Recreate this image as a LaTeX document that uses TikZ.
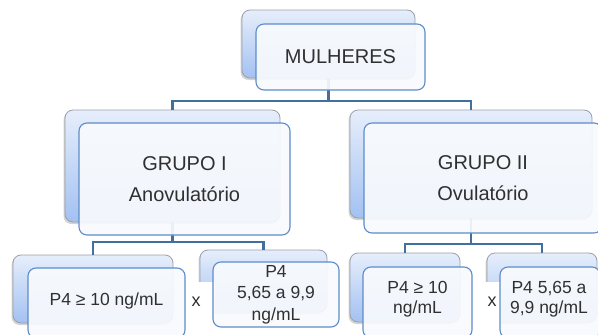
\documentclass[tikz,border=0pt]{standalone}
\usepackage{fontspec}
\setmainfont{Liberation Sans}
\usetikzlibrary{shadows,calc}
\definecolor{conn}{HTML}{41709F}
\definecolor{backtop}{HTML}{E6EEFB}
\definecolor{backbot}{HTML}{A3C1F2}
\definecolor{backline}{HTML}{9A9FA8}
\definecolor{frontline}{HTML}{5E8CC8}
\definecolor{frontfill}{HTML}{F8FAFD}
\definecolor{txt}{HTML}{303030}
\tikzset{
  backbox/.style={draw=backline, line width=0.8pt, rounded corners=8pt,
    top color=backtop, bottom color=backbot,
    drop shadow={opacity=0.35, shadow xshift=-1.5pt, shadow yshift=-2pt},
    inner sep=0pt},
  frontbox/.style={draw=frontline, line width=1.1pt, rounded corners=8pt,
    fill=frontfill, fill opacity=0.92, text opacity=1, text=txt,
    align=center, inner sep=0pt},
  bigtxt/.style={font=\fontsize{20}{31}\selectfont},
  smalltxt/.style={font=\fontsize{17.5}{20}\selectfont},
  plaintxt/.style={text=txt, align=center, inner sep=0pt},
  xbox/.style={fill=white, draw=none, inner sep=0pt},
  xlabel/.style={text=txt, font=\fontsize{18}{20}\selectfont},
  link/.style={draw=conn, line width=2.8pt}
}
\begin{document}
\begin{tikzpicture}[x=1pt,y=1pt]
\useasboundingbox (0,0) rectangle (598,-335);
\clip (0,0) rectangle (598,-335);
% back boxes
\node[backbox, minimum width=173, minimum height=68] (mB) at (328.5,-44) {};
\node[backbox, minimum width=215, minimum height=112] (g1B) at (172.5,-166) {};
\node[backbox, minimum width=242, minimum height=108] (g2B) at (471,-164) {};
\node[backbox, minimum width=160, minimum height=68] (aB) at (93,-289) {};
\node[backbox, minimum width=127, minimum height=62] (bB) at (263.5,-281) {};
\node[backbox, minimum width=110, minimum height=69] (cB) at (405,-287.5) {};
\node[backbox, minimum width=110, minimum height=69] (dB) at (542,-287.5) {};
% connectors
\coordinate (m1) at (0,-101);
\coordinate (m2) at (0,-242);
\coordinate (m3) at (0,-244);
\draw[link] (mB.south) -- (mB.south |- m1) -| (g1B.north);
\draw[link] (mB.south |- m1) -| (g2B.north);
\draw[link] (g1B.south) -- (g1B.south |- m2) -| (aB.north);
\draw[link] (g1B.south |- m2) -| (bB.north);
\draw[link] (g2B.south) -- (g2B.south |- m3) -| (cB.north);
\draw[link] (g2B.south |- m3) -| (dB.north);
% white boxes behind the x
\node[xbox, minimum width=30, minimum height=55] (x1) at (200,-309) {};
\node[xbox, minimum width=28, minimum height=55] (x2) at (487,-309) {};
% front boxes
\node[frontbox, bigtxt, minimum width=169, minimum height=66] (mF) at (340.5,-57) {MULHERES};
\node[frontbox, bigtxt, minimum width=211, minimum height=112] (g1F) at (184.5,-179) {GRUPO I\\Anovulatório};
\node[frontbox, bigtxt, minimum width=238, minimum height=110] (g2F) at (483,-178) {GRUPO II\\Ovulatório};
\node[frontbox, minimum width=157, minimum height=70] (aF) at (106.5,-303) {};
\node[frontbox, smalltxt, minimum width=126, minimum height=65, font=\fontsize{17.5}{21.5}\selectfont] (bF) at (276,-294.5) {P4\\5,65 a 9,9\\ng/mL};
\node[frontbox, minimum width=109, minimum height=71] (cF) at (417.5,-302.5) {};
\node[frontbox, minimum width=100, minimum height=71] (dF) at (550,-302.5) {};
\node[plaintxt, smalltxt] (aT) at (106.5,-300.5) {P4 ≥ 10 ng/mL};
\node[plaintxt, smalltxt] (cT) at (417.5,-299.5) {P4 ≥ 10\\ng/mL};
\node[plaintxt, smalltxt] (dT) at (549,-299.5) {P4 5,65 a\\9,9 ng/mL};
% x labels
\node[xlabel] (xt1) at (196,-302) {x};
\node[xlabel] (xt2) at (492,-302) {x};
\end{tikzpicture}
\end{document}
